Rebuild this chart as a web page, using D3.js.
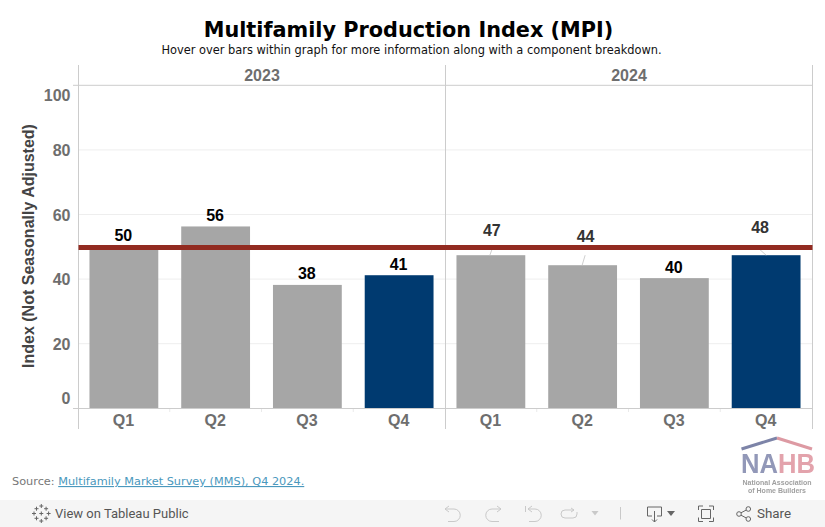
<!DOCTYPE html>
<html>
<head>
<meta charset="utf-8">
<script src="https://cdnjs.cloudflare.com/ajax/libs/d3/7.8.5/d3.min.js"></script>
<style>
  html, body { margin: 0; padding: 0; background: #fff; overflow: hidden; }
  svg { display: block; }
  .sans { font-family: "Liberation Sans", Arial, sans-serif; font-weight: bold; }
  .dv { font-family: "DejaVu Sans", Verdana, sans-serif; }
  .domain { display: none; }
</style>
</head>
<body>
<script>
var years = ["2023", "2024"];
var quarters = ["Q1", "Q2", "Q3", "Q4"];
var mpi2023 = [50, 56.3, 38.2, 41.2];
var mpi2024 = [47.4, 44.3, 40.3, 47.4];
var labels2023 = ["50", "56", "38", "41"];
var labels2024 = ["47", "44", "40", "48"];
var yTicks = [0, 20, 40, 60, 80, 100];
var referenceLevel = 50;

var width = 825, height = 527;
var series = [
  { year: years[0], values: mpi2023, labels: labels2023 },
  { year: years[1], values: mpi2024, labels: labels2024 }
];

var svg = d3.select("body").append("svg")
  .attr("width", width)
  .attr("height", height);

var defs = svg.append("defs");
defs.append("filter").attr("id", "soft").append("feGaussianBlur").attr("stdDeviation", 0.45);

svg.append("text").attr("class", "dv")
  .attr("x", 408.5).attr("y", 37)
  .attr("text-anchor", "middle")
  .attr("font-size", 20.8).attr("font-weight", "bold").attr("fill", "#000")
  .text("Multifamily Production Index (MPI)");

svg.append("text").attr("class", "dv")
  .attr("x", 411.5).attr("y", 54)
  .attr("text-anchor", "middle")
  .attr("font-size", 11.4).attr("fill", "#111")
  .text("Hover over bars within graph for more information along with a component breakdown.");

var y = d3.scaleLinear().domain([0, 100]).range([408.3, 85.3]);
var paneEdges = [78.5, 445.5, 812.5];
var frameTop = 65, frameBottom = 429;

// gridlines first so that bars sit on top
svg.selectAll(".grid")
  .data(yTicks.filter(function(d) { return d > 0 && d < 100; }))
  .enter().append("line")
  .attr("class", "grid")
  .attr("x1", paneEdges[0]).attr("x2", paneEdges[2])
  .attr("y1", function(d) { return y(d); })
  .attr("y2", function(d) { return y(d); })
  .attr("stroke", "#eeeeee");

var yAxis = d3.axisLeft(y).tickValues(yTicks).tickSize(0).tickPadding(8);
var yG = svg.append("g").attr("transform", "translate(78.5,0)").call(yAxis);
yG.selectAll("text")
  .attr("class", "sans")
  .attr("font-size", 16)
  .attr("fill", "#6e6e6e")
  .attr("dy", function(d) {
    // tableau pulls the end labels inside the plot
    if (d === 100) return 15.5;
    if (d === 0) return -4.5;
    return 5.5;
  });

svg.append("text").attr("class", "sans")
  .attr("transform", "translate(34,246) rotate(-90)")
  .attr("text-anchor", "middle")
  .attr("font-size", 16).attr("fill", "#444")
  .text("Index (Not Seasonally Adjusted)");

var xScales = series.map(function(s, p) {
  return d3.scaleBand().domain(quarters)
    .range([paneEdges[p] - 0.5, paneEdges[p + 1] - 0.5])
    .paddingInner(0.25).paddingOuter(0.125);
});

series.forEach(function(s, p) {
  var x = xScales[p];
  var pane = svg.append("g").attr("class", "pane");

  pane.append("text").attr("class", "sans")
    .attr("x", (paneEdges[p] + paneEdges[p + 1]) / 2)
    .attr("y", 81)
    .attr("text-anchor", "middle")
    .attr("font-size", 16).attr("fill", "#6e6e6e")
    .text(s.year);

  pane.selectAll("rect")
    .data(s.values)
    .enter().append("rect")
    .attr("x", function(d, i) { return x(quarters[i]); })
    .attr("y", function(d) { return y(d); })
    .attr("width", x.bandwidth())
    .attr("height", function(d) { return y(0) - y(d); })
    .attr("fill", function(d, i) { return i === 3 ? "#003a70" : "#a6a6a6"; });

  var xAxis = d3.axisBottom(x).tickSize(0).tickPadding(6);
  var xG = pane.append("g").attr("transform", "translate(-0.5,408.5)").call(xAxis);
  xG.selectAll("text")
    .attr("class", "sans")
    .attr("font-size", 16)
    .attr("fill", "#6e6e6e");

  // little separators between quarters
  pane.selectAll(".sep")
    .data(quarters.slice(1))
    .enter().append("line")
    .attr("class", "sep")
    .attr("x1", function(d) { return x(d) - x.step() * 0.125; })
    .attr("x2", function(d) { return x(d) - x.step() * 0.125; })
    .attr("y1", 408.5).attr("y2", 412)
    .attr("stroke", "#eaeaea");
});

// frame
svg.selectAll(".vert")
  .data(paneEdges)
  .enter().append("line")
  .attr("class", "vert")
  .attr("x1", function(d) { return d; })
  .attr("x2", function(d) { return d; })
  .attr("y1", frameTop).attr("y2", frameBottom)
  .attr("stroke", "#cccccc");

[85.3, 408.5].forEach(function(ly) {
  svg.append("line")
    .attr("x1", 73).attr("x2", paneEdges[2])
    .attr("y1", ly).attr("y2", ly)
    .attr("stroke", "#cccccc");
});

// labels tableau moved off the bar: label shift, then where its leader line starts
var moved = {
  "2024Q1": { dx: 1, dy: -14, lx: 1.5, ly: -7, ex: -1 },
  "2024Q2": { dx: 3, dy: -18, lx: 2.5, ly: -10, ex: -0.5 },
  "2024Q4": { dx: -6, dy: -17, lx: -9.5, ly: -8.5, ex: 0 }
};

series.forEach(function(s, p) {
  var x = xScales[p];
  s.labels.forEach(function(t, i) {
    var m = moved[s.year + quarters[i]];
    if (!m) return;
    var cx = x(quarters[i]) + x.bandwidth() / 2;
    var cy = y(s.values[i]);
    svg.append("line")
      .attr("x1", cx + m.lx).attr("y1", cy + m.ly)
      .attr("x2", cx + m.ex).attr("y2", cy)
      .attr("stroke", "#cfcfcf");
  });
});

// reference line
svg.append("line")
  .attr("x1", paneEdges[0]).attr("x2", paneEdges[2])
  .attr("y1", y(referenceLevel) + 0.7).attr("y2", y(referenceLevel) + 0.7)
  .attr("stroke", "#922b21").attr("stroke-width", 5);

series.forEach(function(s, p) {
  var x = xScales[p];
  s.labels.forEach(function(t, i) {
    var m = moved[s.year + quarters[i]];
    svg.append("text").attr("class", "sans")
      .attr("x", x(quarters[i]) + x.bandwidth() / 2 + (m ? m.dx : -0.5))
      .attr("y", y(s.values[i]) - 5.5 + (m ? m.dy : 0))
      .attr("text-anchor", "middle")
      .attr("font-size", 16)
      .attr("fill", m ? "#333" : "#000")
      .text(t);
  });
});

// source
var src = svg.append("text").attr("class", "dv")
  .attr("x", 12).attr("y", 485).attr("font-size", 11.3);
src.append("tspan").attr("fill", "#777").text("Source: ");
src.append("tspan").attr("fill", "#4a98bd").attr("text-decoration", "underline")
  .style("text-decoration-color", "#0000e6").text("Multifamily Market Survey (MMS), Q4 2024.");

// logo
var logo = svg.append("g").attr("filter", "url(#soft)");
logo.append("path")
  .attr("d", "M741.5 449 L777 438")
  .attr("fill", "none").attr("stroke", "#7d84a8").attr("stroke-width", 3);
logo.append("path")
  .attr("d", "M777 438 L812 449")
  .attr("fill", "none").attr("stroke", "#dd9aa3").attr("stroke-width", 3);
var nahb = logo.append("g").attr("transform", "translate(741,472.5) scale(0.915,1)");
nahb.append("text").attr("class", "sans")
  .attr("font-size", 28).attr("fill", "#9298b8").text("NA");
nahb.append("text").attr("class", "sans")
  .attr("x", 40.5).attr("font-size", 28).attr("fill", "#e3a3ac").text("HB");
logo.append("text").attr("class", "sans")
  .attr("x", 777).attr("y", 484.5).attr("text-anchor", "middle")
  .attr("font-size", 7).attr("fill", "#a0a0a0").text("National Association");
logo.append("text").attr("class", "sans")
  .attr("x", 777).attr("y", 492.7).attr("text-anchor", "middle")
  .attr("font-size", 7).attr("fill", "#a0a0a0").text("of Home Builders");

// tableau toolbar
svg.append("rect").attr("x", 0).attr("y", 500).attr("width", width).attr("height", 27).attr("fill", "#f5f5f5");
svg.append("text")
  .attr("x", 55).attr("y", 518)
  .attr("font-family", "Roboto, sans-serif").attr("font-size", 13).attr("fill", "#555")
  .text("View on Tableau Public");
svg.append("text")
  .attr("x", 757).attr("y", 518)
  .attr("font-family", "Roboto, sans-serif").attr("font-size", 13.4).attr("fill", "#555")
  .text("Share");

var crossPts = [[41.3, 506], [41.3, 521], [34, 513.5], [48.6, 513.5], [36.5, 508.7], [46.1, 508.7], [36.5, 518.3], [46.1, 518.3], [41.3, 513.5]];
svg.selectAll(".tab").data(crossPts).enter().append("path")
  .attr("class", "tab")
  .attr("d", function(d) {
    return "M" + (d[0] - 2) + " " + d[1] + "H" + (d[0] + 2) + "M" + d[0] + " " + (d[1] - 2) + "V" + (d[1] + 2);
  })
  .attr("stroke", "#666").attr("fill", "none");

var faded = "#c9c9c9", dark = "#666";
var icons = [
  ["M445 509 L449 506 M445 509 L449 512 M445 509 H454 A6 6 0 0 1 454 521.5 H448", faded],
  ["M501 509 L497 506 M501 509 L497 512 M501 509 H492 A6 6 0 0 0 492 521.5 H499", faded],
  ["M525.5 506 V512 M528 509 L532 506 M528 509 L532 512 M528 509 H535 A6 6 0 0 1 535 521.5 H529", faded],
  ["M574 510 H565 A4 4 0 0 0 565 518 H573 A4 4 0 0 0 577 514 V512 M574 510 L571 508 M574 510 L571 512", faded],
  ["M620.5 507 V519.5", faded],
  ["M652 516 H647.5 V507 H661.5 V516 H657 M654.5 511 V522 M652 519.5 L654.5 522 L657 519.5", dark],
  ["M698.5 510 V506 H703 M709 506 H713.5 V510 M713.5 517.5 V521.5 H709 M703 521.5 H698.5 V517.5 M701.5 509.5 H710.5 V518.5 H701.5 Z", dark],
  ["M741 512.8 L746.3 510 M741 515.2 L746.3 518", dark]
];
svg.selectAll(".ico").data(icons).enter().append("path")
  .attr("class", "ico")
  .attr("d", function(d) { return d[0]; })
  .attr("fill", "none")
  .attr("stroke", function(d) { return d[1]; });

svg.selectAll(".tri").data([[595, 513, faded, 3.5], [671, 513, dark, 4]]).enter().append("path")
  .attr("class", "tri")
  .attr("d", function(d) { return "M" + (d[0] - d[3]) + " " + (d[1] - 2) + "h" + (d[3] * 2) + "l" + (-d[3]) + " " + (d[3] + 1) + "z"; })
  .attr("fill", function(d) { return d[2]; });

svg.selectAll(".dot").data([[739, 514], [748.3, 509], [748.3, 519]]).enter().append("circle")
  .attr("class", "dot")
  .attr("cx", function(d) { return d[0]; })
  .attr("cy", function(d) { return d[1]; })
  .attr("r", 2.3)
  .attr("fill", "#f5f5f5").attr("stroke", dark);
</script>
</body>
</html>
